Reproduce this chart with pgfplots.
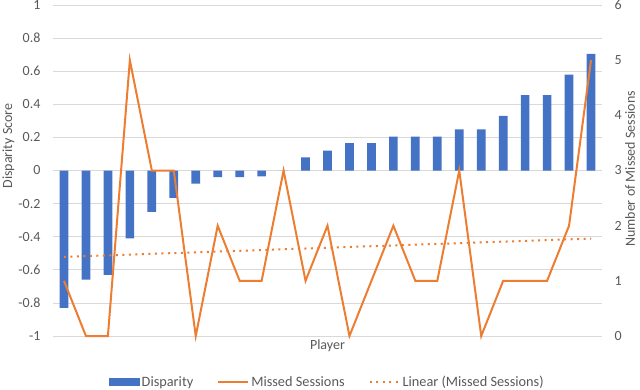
\documentclass[border=0pt]{standalone}
\usepackage{pgfplots}
\pgfplotsset{compat=1.18}
\usepackage{pgfplotstable}
\usepackage{fontspec}
\setmainfont{Carlito}

\definecolor{barblue}{HTML}{4472C4}
\definecolor{lineorange}{HTML}{ED7D31}
\definecolor{txtgray}{HTML}{595959}
\definecolor{gridgray}{HTML}{D9D9D9}

\pgfplotstableread{
idx disp missed
0  -0.83  1
1  -0.66  0
2  -0.63  0
3  -0.41  5
4  -0.25  3
5  -0.165 3
6  -0.08  0
7  -0.04  2
8  -0.04  1
9  -0.035 1
10  0.0   3
11  0.08  1
12  0.12  2
13  0.165 0
14  0.165 1
15  0.205 2
16  0.205 1
17  0.205 1
18  0.248 3
19  0.248 0
20  0.33  1
21  0.455 1
22  0.455 1
23  0.58  2
24  0.705 5
}\datatable

\pgfplotsset{
  base/.style={
    width=549pt, height=331pt, scale only axis,
    xmin=-0.5, xmax=24.5,
    font=\fontsize{14}{16}\selectfont,
    tick label style={text=txtgray},
    label style={text=txtgray},
    major tick length=0pt,
    xtick=\empty,
  },
}

\begin{document}
\begin{tikzpicture}
\begin{axis}[
  base,
  ymin=-1, ymax=1,
  ytick={-1,-0.8,-0.6,-0.4,-0.2,0,0.2,0.4,0.6,0.8,1},
  yticklabels={-1,-0.8,-0.6,-0.4,-0.2,0,0.2,0.4,0.6,0.8,1},
  yticklabel style={xshift=-9pt},
  ymajorgrids, grid style={gridgray, line width=0.8pt},
  axis line style={draw=none},
  ylabel={Disparity Score},
  ylabel style={at={(axis description cs:-0.081,0.574)}, anchor=center},
  xlabel={Player},
  xlabel style={at={(axis description cs:0.5,-0.030)}, anchor=center},
]
\addplot[ybar, bar width=8.7pt, fill=barblue, draw=none] table[x=idx, y=disp] {\datatable};
\end{axis}

\begin{axis}[
  base,
  ymin=0, ymax=6,
  axis y line*=right, axis x line=none,
  axis line style={draw=none},
  ytick={0,1,2,3,4,5,6},
  yticklabels={0,1,2,3,4,5,6},
  yticklabel style={xshift=9pt},
  ylabel={Number of Missed Sessions},
  ylabel style={at={(axis description cs:1.051,0.505)}, anchor=center},
  clip=false,
  legend columns=3,
  legend style={draw=none, fill=none, at={(0.5,-0.139)}, anchor=center,
    font=\fontsize{14.3}{16}\selectfont, text=txtgray,
    /tikz/every even column/.append style={column sep=22pt}},
  legend cell align=left,
  legend image code/.code={\draw[#1] (0pt,0pt) -- (30pt,0pt);},
]
\addlegendimage{legend image code/.code={\fill[barblue] (0pt,-3.5pt) rectangle (30pt,3.5pt);}}
\addlegendentry{Disparity}
\addplot[lineorange, line width=2pt, mark=none]
  table[x=idx, y=missed] {\datatable};
\addlegendentry{Missed Sessions}
\addplot[lineorange, line width=2pt, dash pattern=on 2pt off 4.5pt, mark=none]
  coordinates {(0,1.434) (24,1.766)};
\addlegendentry{Linear (Missed Sessions)}
\end{axis}
\pgfresetboundingbox
\path[use as bounding box] (-53pt,-53pt) rectangle (587pt,336pt);
\end{tikzpicture}
\end{document}
